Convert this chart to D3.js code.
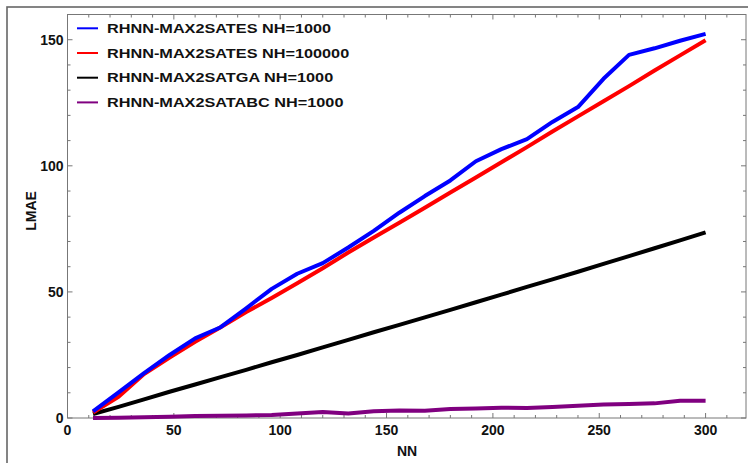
<!DOCTYPE html>
<html>
<head>
<meta charset="utf-8">
<script src="https://cdn.jsdelivr.net/npm/d3@7"></script>
<style>
  body { margin: 0; background: #fff; }
  svg text { font-family: "Liberation Sans", Arial, sans-serif; font-weight: bold; fill: #111; }
</style>
</head>
<body>
<svg width="748" height="463"></svg>
<script>
var nn = [12, 24, 36, 48, 60, 72, 84, 96, 108, 120, 132, 144, 156, 168, 180, 192, 204, 216, 228, 240, 252, 264, 276, 288, 300];

var esSmall = [2.6, 10.2, 17.8, 25.0, 31.6, 36.0, 43.5, 51.2, 57.2, 61.4, 67.6, 74.2, 81.4, 88.0, 94.2, 101.8, 106.6, 110.6, 117.4, 123.3, 134.5, 144.0, 146.6, 149.6, 152.3];
var esLarge = [2.2, 8.4, 17.4, 24.0, 30.2, 36.0, 42.0, 47.6, 53.4, 59.4, 65.6, 71.6, 77.4, 83.4, 89.4, 95.4, 101.4, 107.4, 113.6, 119.6, 125.6, 131.6, 137.8, 143.8, 149.8];
var ga = [1.6, 4.4, 7.4, 10.4, 13.3, 16.2, 19.1, 22.1, 25.0, 28.0, 31.0, 34.0, 36.9, 39.9, 42.9, 45.9, 48.9, 52.0, 55.0, 58.0, 61.1, 64.2, 67.3, 70.4, 73.6];
var abc = [0.0, 0.1, 0.3, 0.5, 0.8, 0.9, 1.0, 1.2, 1.8, 2.4, 1.8, 2.7, 3.0, 2.9, 3.6, 3.8, 4.1, 4.0, 4.4, 4.9, 5.4, 5.6, 5.8, 6.8, 6.8];

var seriesNames = ["RHNN-MAX2SATES NH=1000", "RHNN-MAX2SATES NH=100000", "RHNN-MAX2SATGA NH=1000", "RHNN-MAX2SATABC NH=1000"];
var seriesColors = ["#0000ff", "#ff0000", "#000000", "#800080"];
var seriesValues = [esSmall, esLarge, ga, abc];

var xTicks = [0, 50, 100, 150, 200, 250, 300];
var yTicks = [0, 50, 100, 150];

var svg = d3.select("svg");

// outer border of the picture
svg.append("rect")
    .attr("x", 7).attr("y", 7)
    .attr("width", 760).attr("height", 470)
    .attr("fill", "none")
    .attr("stroke", "#666")
    .attr("stroke-width", 1.6);

var pL = 67.5, pR = 746, pT = 14.5, pB = 418;

var x = d3.scaleLinear().domain([0, 319]).range([pL, pR]);
var y = d3.scaleLinear().domain([0, 160]).range([pB, pT]);

var minorX = d3.range(0, 320, 10);
var minorY = d3.range(0, 161, 10);

var frame = svg.append("g");
frame.append("rect")
    .attr("x", pL).attr("y", pT)
    .attr("width", pR - pL).attr("height", pB - pT)
    .attr("fill", "none")
    .attr("stroke", "#777")
    .attr("stroke-width", 1);

// ticks point inward on all four sides
function tickLen(v) { return v % 50 === 0 ? 5 : 3; }

frame.selectAll(".xb").data(minorX).enter().append("line")
    .attr("x1", function(d) { return x(d); }).attr("x2", function(d) { return x(d); })
    .attr("y1", pB).attr("y2", function(d) { return pB - tickLen(d); })
    .attr("stroke", "#777");
frame.selectAll(".xt").data(minorX).enter().append("line")
    .attr("x1", function(d) { return x(d); }).attr("x2", function(d) { return x(d); })
    .attr("y1", pT).attr("y2", function(d) { return pT + tickLen(d); })
    .attr("stroke", "#777");
frame.selectAll(".yl").data(minorY).enter().append("line")
    .attr("y1", function(d) { return y(d); }).attr("y2", function(d) { return y(d); })
    .attr("x1", pL).attr("x2", function(d) { return pL + tickLen(d); })
    .attr("stroke", "#777");
frame.selectAll(".yr").data(minorY).enter().append("line")
    .attr("y1", function(d) { return y(d); }).attr("y2", function(d) { return y(d); })
    .attr("x1", pR).attr("x2", function(d) { return pR - tickLen(d); })
    .attr("stroke", "#777");

frame.selectAll(".xlab").data(xTicks).enter().append("text")
    .attr("x", function(d) { return x(d); })
    .attr("y", 435)
    .attr("text-anchor", "middle")
    .attr("font-size", 14)
    .text(function(d) { return d; });

frame.selectAll(".ylab").data(yTicks).enter().append("text")
    .attr("x", pL - 4)
    .attr("y", function(d) { return y(d) + 5; })
    .attr("text-anchor", "end")
    .attr("font-size", 14)
    .text(function(d) { return d; });

svg.append("text")
    .attr("x", 407).attr("y", 456)
    .attr("text-anchor", "middle")
    .attr("font-size", 14)
    .text("NN");

svg.append("text")
    .attr("transform", "translate(36,211) rotate(-90)")
    .attr("text-anchor", "middle")
    .attr("font-size", 14)
    .text("LMAE");

var line = d3.line()
    .x(function(d, i) { return x(nn[i]); })
    .y(function(d) { return y(d); });

var plot = svg.append("g");
// draw back to front so blue sits on top of red
[3, 2, 1, 0].forEach(function(k) {
  plot.append("path")
      .datum(seriesValues[k])
      .attr("d", line)
      .attr("fill", "none")
      .attr("stroke", seriesColors[k])
      .attr("stroke-width", 4)
      .attr("stroke-linejoin", "round");
});

var legend = svg.append("g");
seriesNames.forEach(function(name, i) {
  var ly = 28.3 + i * 24.7;
  legend.append("line")
      .attr("x1", 77).attr("x2", 98)
      .attr("y1", ly).attr("y2", ly)
      .attr("stroke", seriesColors[i])
      .attr("stroke-width", 2);
  var t = legend.append("text")
      .attr("x", 107)
      .attr("y", ly + 4.5)
      .attr("font-size", 13)
      .text(name);
  // the reference lettering is drawn wider than the font's natural width
  var w = t.node().getComputedTextLength();
  t.attr("textLength", w * 1.25).attr("lengthAdjust", "spacingAndGlyphs");
});
</script>
</body>
</html>
